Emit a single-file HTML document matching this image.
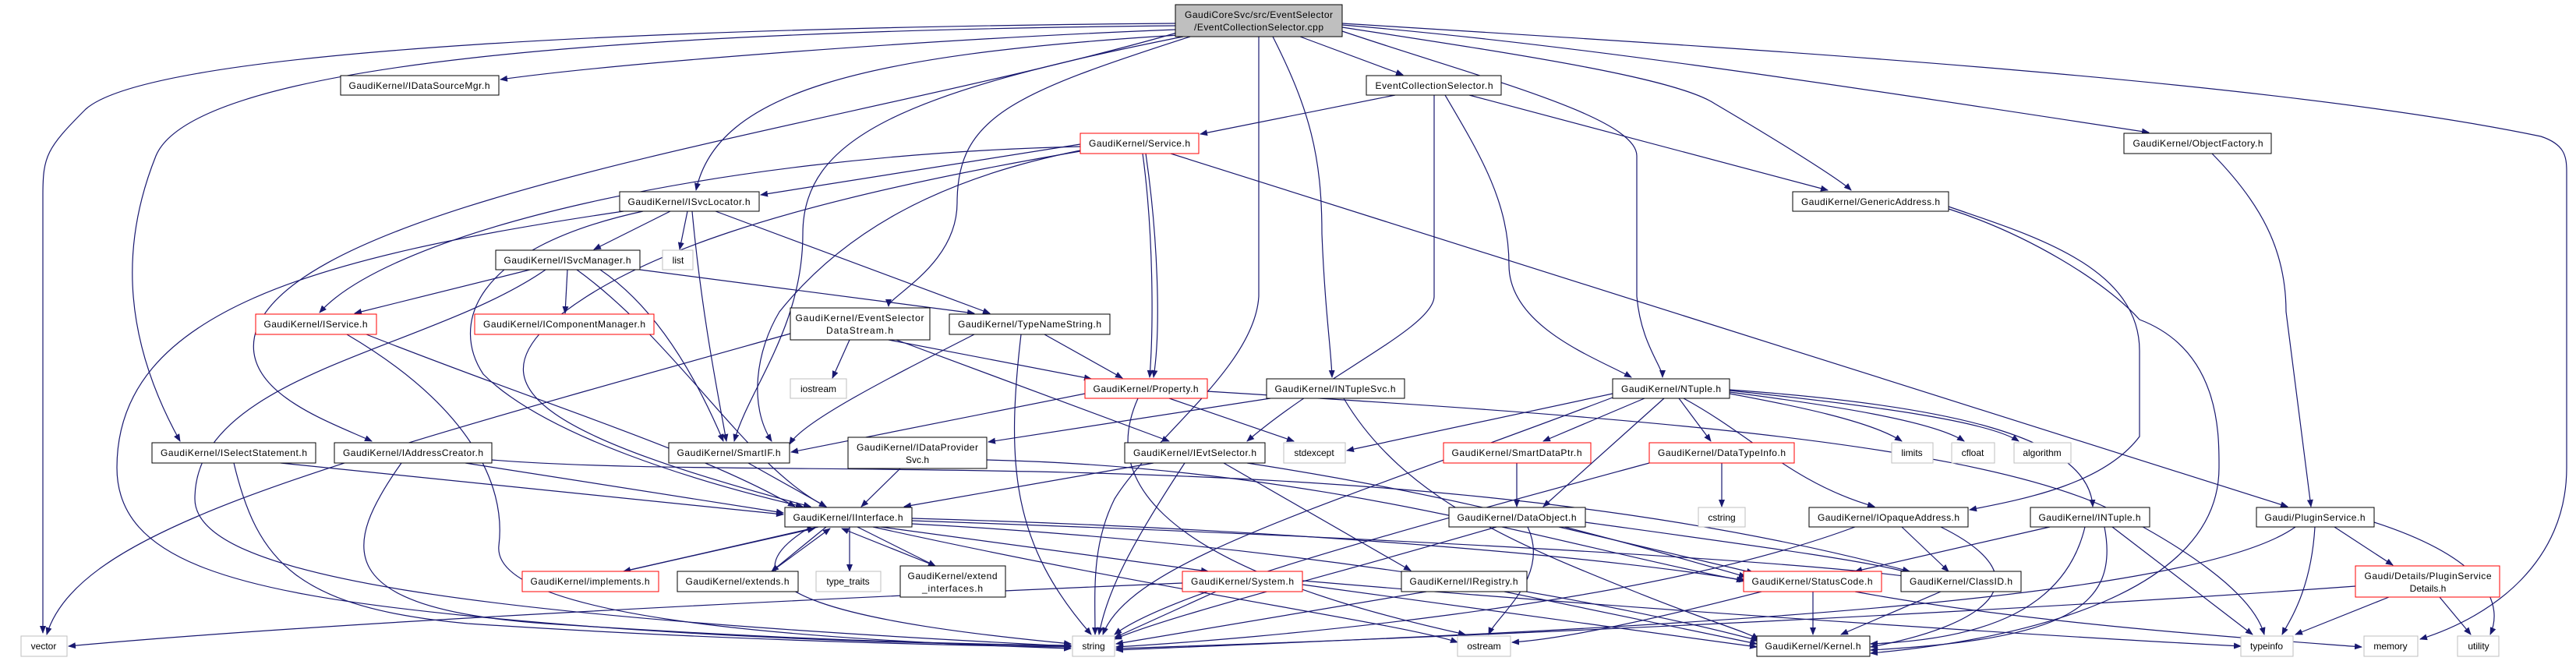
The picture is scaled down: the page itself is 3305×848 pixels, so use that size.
<!DOCTYPE html>
<html><head><meta charset="utf-8"><style>
html,body{margin:0;padding:0;background:#fff;}
svg{display:block;}
text{font-family:"Liberation Sans",sans-serif;font-size:12px;fill:#000;}
.e{fill:none;stroke:#191970;stroke-width:1.2;marker-end:url(#a);}
.b{fill:#fff;stroke:#000;stroke-width:1;}
.r{fill:#fff;stroke:#f00;stroke-width:1;}
.g{fill:#fff;stroke:#bfbfbf;stroke-width:1;}
</style></head><body>
<svg width="3305" height="848" viewBox="0 0 3305 848" xmlns="http://www.w3.org/2000/svg">
<defs><marker id="a" markerWidth="10" markerHeight="8" refX="9" refY="4" orient="auto" markerUnits="userSpaceOnUse"><path d="M0,0 L10,4 L0,8 z" fill="#191970"/></marker></defs>
<!-- edges from root -->
<path class="e" d="M1508,30 C900,35 200,60 110,140 C60,190 55,200 55,250 L55,812"/>
<path class="e" d="M1508,33 C800,40 250,80 200,200 C160,300 150,420 231,566"/>
<path class="e" d="M1508,38 C1200,50 800,80 642,102"/>
<path class="e" d="M1512,45 C1100,70 920,120 893,244"/>
<path class="e" d="M1518,47 C1150,120 1030,180 1030,300 C1030,420 960,500 942,566"/>
<path class="e" d="M1527,47 C1300,120 1228,150 1228,260 C1228,340 1140,380 1140,393"/>
<path class="e" d="M1510,42 C1100,160 400,250 330,420 C300,500 420,540 477,566"/>
<path class="e" d="M1615,47 L1615,380 C1610,470 1480,560 1430,640 C1400,700 1405,760 1405,814"/>
<path class="e" d="M1633,47 C1680,140 1696,200 1696,300 C1700,400 1708,450 1709,484"/>
<path class="e" d="M1668,47 L1800,96"/>
<path class="e" d="M1722,40 C1900,100 2100,150 2100,200 L2100,380 C2105,440 2133,470 2133,484"/>
<path class="e" d="M1722,35 C1950,70 2150,100 2200,133 C2280,180 2360,230 2375,244"/>
<path class="e" d="M1722,32 C2000,55 2300,100 2757,170"/>
<path class="e" d="M1722,30 C2200,60 2900,100 3260,175 C3290,185 3293,200 3293,220 L3293,600 C3293,720 3200,790 3105,820"/>
<!-- EventCollectionSelector.h -->
<path class="e" d="M1790,122 L1540,172"/>
<path class="e" d="M1840,122 L1840,380 C1840,420 1700,480 1600,566"/>
<path class="e" d="M1854,122 C1900,200 1936,260 1936,340 C1936,420 2050,460 2093,484"/>
<path class="e" d="M1885,122 L2345,244"/>
<!-- Service.h -->
<path class="e" d="M1386,185 L976,250"/>
<path class="e" d="M1386,188 C900,200 500,300 410,401"/>
<path class="e" d="M1386,194 C1000,260 800,330 700,420 C620,500 700,560 1040,650"/>
<path class="e" d="M1466,197 C1480,300 1480,420 1475,484"/>
<path class="e" d="M1470,197 C1485,300 1490,420 1480,484"/>
<path class="e" d="M1502,197 L2935,650"/>
<path class="e" d="M1386,193 C1200,230 1080,300 1000,400 C970,450 960,520 990,566"/>
<!-- ISvcLocator -->
<path class="e" d="M860,271 L762,320"/>
<path class="e" d="M882,271 L872,320"/>
<path class="e" d="M888,271 C900,400 920,500 932,566"/>
<path class="e" d="M918,271 L1270,402"/>
<path class="e" d="M825,271 C600,320 580,420 620,480 C700,560 900,620 1030,650"/>
<path class="e" d="M800,271 C400,330 150,400 150,600 C150,720 300,760 600,790 C900,820 1200,826 1374,829"/>
<!-- ISvcManager -->
<path class="e" d="M680,346 L455,402"/>
<path class="e" d="M728,346 L725,402"/>
<path class="e" d="M770,346 C850,400 900,500 928,566"/>
<path class="e" d="M821,346 L1250,402"/>
<path class="e" d="M700,346 C550,450 250,480 250,640 C250,740 600,790 1374,829"/>
<path class="e" d="M740,346 C870,440 960,600 1060,650"/>
<!-- IService -->
<path class="e" d="M445,429 C600,520 650,620 640,700 C630,790 1000,820 1374,832"/>
<path class="e" d="M470,429 C700,520 900,580 1020,650"/>
<!-- DataStream -->
<path class="e" d="M1090,436 L1068,485"/>
<path class="e" d="M1140,436 L1400,486"/>
<path class="e" d="M1150,436 L1500,566"/>
<path class="e" d="M1014,428 C400,600 100,680 60,814"/>
<!-- TypeNameString -->
<path class="e" d="M1340,429 L1440,485"/>
<path class="e" d="M1310,429 C1290,600 1300,700 1400,814"/>
<path class="e" d="M1250,429 C1150,480 1030,540 1013,570"/>
<!-- Property -->
<path class="e" d="M1392,505 L1015,580"/>
<path class="e" d="M1500,511 L1660,566"/>
<path class="e" d="M1549,502 C2000,530 2500,560 2700,650 C2800,700 2890,760 2905,814"/>
<path class="e" d="M1460,511 C1420,600 1450,720 1880,814"/>
<!-- INTupleSvc -->
<path class="e" d="M1630,511 L1268,567"/>
<path class="e" d="M1724,511 C1800,640 1950,700 2100,760 C2200,800 2240,810 2256,820"/>
<!-- IDataProviderSvc -->
<path class="e" d="M1155,601 L1105,650"/>
<path class="e" d="M1266,590 C1700,600 2000,700 2237,745"/>
<!-- NTuple -->
<path class="e" d="M2069,505 L1728,578"/>
<path class="e" d="M2110,511 L1980,566"/>
<path class="e" d="M2154,511 L2195,566"/>
<path class="e" d="M2219,505 C2300,520 2400,540 2440,566"/>
<path class="e" d="M2219,503 C2350,520 2480,540 2520,566"/>
<path class="e" d="M2219,501 C2400,520 2550,540 2590,566"/>
<path class="e" d="M2135,511 L1980,650"/>
<path class="e" d="M2160,511 C2250,560 2300,620 2405,650"/>
<path class="e" d="M2219,500 C2500,520 2680,560 2685,650"/>
<path class="e" d="M2069,510 C1700,650 1450,720 1415,814"/>
<!-- SmartDataPtr / DataTypeInfo -->
<path class="e" d="M1946,594 L1946,650"/>
<path class="e" d="M2209,594 L2209,650"/>
<path class="e" d="M2116,594 C1800,680 1500,760 1430,814"/>
<!-- DataObject -->
<path class="e" d="M1960,676 C1990,740 1920,790 1910,814"/>
<path class="e" d="M1920,676 C1700,740 1500,790 1430,820"/>
<path class="e" d="M2000,676 L2250,735"/>
<path class="e" d="M2034,670 C2250,700 2400,720 2450,735"/>
<!-- IEvtSelector -->
<path class="e" d="M1480,594 L1160,650"/>
<path class="e" d="M1520,594 C1450,700 1420,760 1410,814"/>
<path class="e" d="M1570,594 L1810,732"/>
<path class="e" d="M1600,594 C1900,640 2100,700 2240,740"/>
<!-- IInterface -->
<path class="e" d="M1050,676 L800,733"/>
<path class="e" d="M1060,676 L990,733"/>
<path class="e" d="M1090,676 L1090,733"/>
<path class="e" d="M1100,676 L1200,726"/>
<path class="e" d="M1130,676 L1550,733"/>
<path class="e" d="M1170,665 C1700,680 2100,720 2240,745"/>
<path class="e" d="M1170,668 C1800,690 2300,720 2450,740"/>
<path class="e" d="M1170,672 C1700,700 2100,780 2256,822"/>
<path class="e" d="M1120,676 C1500,760 1800,800 1870,824"/>
<path class="e" d="M1040,676 C900,760 1100,800 1374,826"/>
<path class="e" d="M800,733 L1045,678"/>
<path class="e" d="M990,733 L1065,678"/>
<path class="e" d="M1200,726 L1080,678"/>
<!-- System -->
<path class="e" d="M1560,759 L1430,818"/>
<path class="e" d="M1671,750 L2254,830"/>
<path class="e" d="M1671,745 C2200,790 2700,820 2875,829"/>
<path class="e" d="M1517,748 C1000,770 400,800 88,829"/>
<!-- IRegistry -->
<path class="e" d="M1830,759 L1432,826"/>
<path class="e" d="M1930,759 L2254,826"/>
<!-- IOpaqueAddress -->
<path class="e" d="M2380,676 C2100,780 1600,820 1432,830"/>
<path class="e" d="M2440,676 L2500,733"/>
<path class="e" d="M2490,676 C2620,740 2560,800 2400,830"/>
<!-- INTuple -->
<path class="e" d="M2630,676 L2380,733"/>
<path class="e" d="M2675,676 C2650,780 2550,820 2400,826"/>
<path class="e" d="M2700,676 C2720,780 2650,820 2400,834"/>
<path class="e" d="M2710,676 L2890,814"/>
<!-- StatusCode / ClassID -->
<path class="e" d="M2326,759 L2326,814"/>
<path class="e" d="M2380,759 C2600,800 2900,820 3030,830"/>
<path class="e" d="M2260,759 C2100,800 2000,820 1940,824"/>
<path class="e" d="M2490,759 L2362,814"/>
<!-- GenericAddress / ObjectFactory -->
<path class="e" d="M2500,265 C2600,300 2745,340 2745,450 L2745,560 C2700,620 2600,640 2527,654"/>
<path class="e" d="M2500,268 C2600,300 2700,360 2745,410 C2850,450 2847,560 2847,600 C2847,760 2600,820 2400,838"/>
<path class="e" d="M2838,197 C2900,260 2933,320 2933,400 L2965,650"/>
<!-- PluginService -->
<path class="e" d="M2995,676 L3070,725"/>
<path class="e" d="M2970,676 C2965,760 2935,800 2928,814"/>
<path class="e" d="M3046,670 C3200,720 3210,780 3195,814"/>
<path class="e" d="M2945,676 C2800,780 2000,810 1432,834"/>
<!-- PluginServiceDetails -->
<path class="e" d="M3065,766 L2945,814"/>
<path class="e" d="M3130,766 L3170,814"/>
<path class="e" d="M3022,752 C2500,790 1800,820 1432,832"/>
<!-- ISelectStatement / IAddressCreator / SmartIF -->
<path class="e" d="M360,594 L1005,660"/>
<path class="e" d="M300,594 C330,720 380,780 600,800 C900,820 1200,828 1374,830"/>
<path class="e" d="M597,594 L1005,658"/>
<path class="e" d="M515,594 C440,700 420,780 700,800 C1000,820 1200,826 1374,828"/>
<path class="e" d="M631,590 C1000,620 1800,560 2450,733"/>
<path class="e" d="M960,594 L1060,650"/>
</g>
<!-- nodes -->
<rect class="b" x="1508" y="6" width="214" height="41" style="fill:#bfbfbf"/>
<text x="1615" y="23" text-anchor="middle" textLength="190">GaudiCoreSvc/src/EventSelector</text>
<text x="1615" y="39" text-anchor="middle" textLength="166">/EventCollectionSelector.cpp</text>

<rect class="b" x="437" y="97" width="203" height="25"/><text x="538" y="114" text-anchor="middle" textLength="181">GaudiKernel/IDataSourceMgr.h</text>
<rect class="b" x="795" y="246" width="179" height="25"/><text x="884" y="263" text-anchor="middle" textLength="157">GaudiKernel/ISvcLocator.h</text>
<rect class="b" x="636" y="321" width="185" height="25"/><text x="728" y="338" text-anchor="middle" textLength="163">GaudiKernel/ISvcManager.h</text>
<rect class="g" x="850" y="321" width="39" height="25"/><text x="870" y="338" text-anchor="middle">list</text>
<rect class="r" x="328" y="403" width="155" height="26"/><text x="405" y="420" text-anchor="middle" textLength="133">GaudiKernel/IService.h</text>
<rect class="r" x="609" y="403" width="230" height="26"/><text x="724" y="420" text-anchor="middle" textLength="208">GaudiKernel/IComponentManager.h</text>
<rect class="b" x="1014" y="395" width="179" height="41"/>
<text x="1103" y="412" text-anchor="middle" textLength="165">GaudiKernel/EventSelector</text>
<text x="1103" y="428" text-anchor="middle" textLength="86">DataStream.h</text>
<rect class="g" x="1014" y="486" width="72" height="25"/><text x="1050" y="503" text-anchor="middle">iostream</text>
<rect class="b" x="195" y="568" width="210" height="26"/><text x="300" y="585" text-anchor="middle" textLength="188">GaudiKernel/ISelectStatement.h</text>
<rect class="b" x="429" y="568" width="202" height="26"/><text x="530" y="585" text-anchor="middle" textLength="180">GaudiKernel/IAddressCreator.h</text>
<rect class="b" x="858" y="568" width="155" height="26"/><text x="935" y="585" text-anchor="middle" textLength="133">GaudiKernel/SmartIF.h</text>
<rect class="b" x="1007" y="651" width="163" height="25"/><text x="1088" y="668" text-anchor="middle" textLength="141">GaudiKernel/IInterface.h</text>
<rect class="r" x="670" y="733" width="175" height="26"/><text x="757" y="750" text-anchor="middle" textLength="153">GaudiKernel/implements.h</text>
<rect class="b" x="869" y="733" width="155" height="26"/><text x="946" y="750" text-anchor="middle" textLength="133">GaudiKernel/extends.h</text>
<rect class="g" x="1047" y="733" width="83" height="26"/><text x="1088" y="750" text-anchor="middle">type_traits</text>
<rect class="g" x="27" y="816" width="59" height="26"/><text x="56" y="833" text-anchor="middle">vector</text>
<rect class="b" x="1753" y="97" width="173" height="25"/><text x="1840" y="114" text-anchor="middle" textLength="151">EventCollectionSelector.h</text>
<rect class="r" x="1386" y="171" width="152" height="26"/><text x="1462" y="188" text-anchor="middle" textLength="130">GaudiKernel/Service.h</text>
<rect class="b" x="1218" y="403" width="206" height="26"/><text x="1321" y="420" text-anchor="middle" textLength="184">GaudiKernel/TypeNameString.h</text>
<rect class="r" x="1392" y="486" width="157" height="25"/><text x="1470" y="503" text-anchor="middle" textLength="135">GaudiKernel/Property.h</text>
<rect class="b" x="1625" y="486" width="177" height="25"/><text x="1713" y="503" text-anchor="middle" textLength="155">GaudiKernel/INTupleSvc.h</text>
<rect class="b" x="2069" y="486" width="150" height="25"/><text x="2144" y="503" text-anchor="middle" textLength="128">GaudiKernel/NTuple.h</text>
<rect class="b" x="1088" y="561" width="178" height="40"/>
<text x="1177" y="578" text-anchor="middle" textLength="156">GaudiKernel/IDataProvider</text>
<text x="1177" y="594" text-anchor="middle">Svc.h</text>
<rect class="b" x="1443" y="568" width="180" height="26"/><text x="1533" y="585" text-anchor="middle" textLength="158">GaudiKernel/IEvtSelector.h</text>
<rect class="g" x="1647" y="568" width="79" height="26"/><text x="1686" y="585" text-anchor="middle">stdexcept</text>
<rect class="r" x="1852" y="568" width="189" height="26"/><text x="1946" y="585" text-anchor="middle" textLength="167">GaudiKernel/SmartDataPtr.h</text>
<rect class="r" x="2116" y="568" width="186" height="26"/><text x="2209" y="585" text-anchor="middle" textLength="164">GaudiKernel/DataTypeInfo.h</text>
<rect class="b" x="1859" y="651" width="175" height="25"/><text x="1946" y="668" text-anchor="middle" textLength="153">GaudiKernel/DataObject.h</text>
<rect class="g" x="2179" y="651" width="60" height="25"/><text x="2209" y="668" text-anchor="middle">cstring</text>
<rect class="b" x="1155" y="726" width="135" height="40"/>
<text x="1222" y="743" text-anchor="middle" textLength="115">GaudiKernel/extend</text>
<text x="1222" y="759" text-anchor="middle" textLength="78">_interfaces.h</text>
<rect class="r" x="1517" y="733" width="154" height="26"/><text x="1594" y="750" text-anchor="middle" textLength="132">GaudiKernel/System.h</text>
<rect class="b" x="1798" y="733" width="161" height="26"/><text x="1878" y="750" text-anchor="middle" textLength="139">GaudiKernel/IRegistry.h</text>
<rect class="g" x="1376" y="816" width="54" height="26"/><text x="1403" y="833" text-anchor="middle">string</text>
<rect class="g" x="1870" y="816" width="68" height="26"/><text x="1904" y="833" text-anchor="middle">ostream</text>
<rect class="b" x="2725" y="171" width="189" height="26"/><text x="2820" y="188" text-anchor="middle" textLength="167">GaudiKernel/ObjectFactory.h</text>
<rect class="b" x="2300" y="246" width="200" height="25"/><text x="2400" y="263" text-anchor="middle" textLength="178">GaudiKernel/GenericAddress.h</text>
<rect class="g" x="2427" y="568" width="53" height="26"/><text x="2453" y="585" text-anchor="middle">limits</text>
<rect class="g" x="2504" y="568" width="55" height="26"/><text x="2531" y="585" text-anchor="middle">cfloat</text>
<rect class="g" x="2584" y="568" width="73" height="26"/><text x="2620" y="585" text-anchor="middle">algorithm</text>
<rect class="b" x="2321" y="651" width="204" height="25"/><text x="2423" y="668" text-anchor="middle" textLength="182">GaudiKernel/IOpaqueAddress.h</text>
<rect class="b" x="2605" y="651" width="153" height="25"/><text x="2681" y="668" text-anchor="middle" textLength="131">GaudiKernel/INTuple.h</text>
<rect class="b" x="2895" y="651" width="151" height="25"/><text x="2970" y="668" text-anchor="middle" textLength="129">Gaudi/PluginService.h</text>
<rect class="r" x="2237" y="733" width="177" height="26"/><text x="2325" y="750" text-anchor="middle" textLength="155">GaudiKernel/StatusCode.h</text>
<rect class="b" x="2439" y="733" width="154" height="26"/><text x="2516" y="750" text-anchor="middle" textLength="132">GaudiKernel/ClassID.h</text>
<rect class="r" x="3022" y="726" width="185" height="40"/>
<text x="3115" y="743" text-anchor="middle" textLength="163">Gaudi/Details/PluginService</text>
<text x="3115" y="759" text-anchor="middle">Details.h</text>
<rect class="b" x="2254" y="816" width="145" height="26"/><text x="2326" y="833" text-anchor="middle" textLength="123">GaudiKernel/Kernel.h</text>
<rect class="g" x="2875" y="816" width="67" height="26"/><text x="2908" y="833" text-anchor="middle">typeinfo</text>
<rect class="g" x="3033" y="816" width="69" height="26"/><text x="3067" y="833" text-anchor="middle">memory</text>
<rect class="g" x="3153" y="816" width="53" height="26"/><text x="3180" y="833" text-anchor="middle">utility</text>
</svg>
</body></html>
